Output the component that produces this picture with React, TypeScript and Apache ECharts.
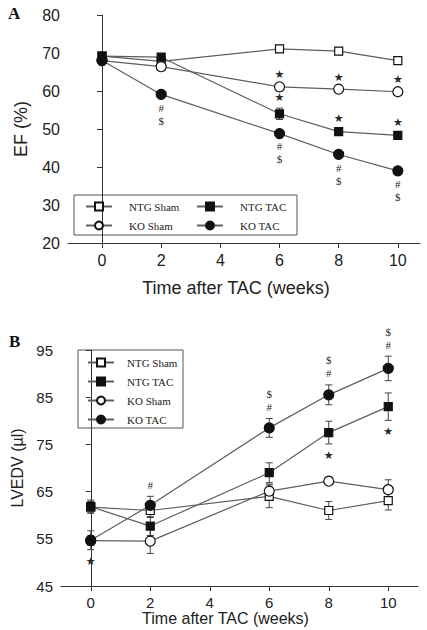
import React, { useEffect, useRef } from "react";
import * as echarts from "echarts";

// ---------- data ----------
const weeks = [0, 2, 6, 8, 10];
const xTickValues = [0, 2, 4, 6, 8, 10];
const efTicks = [20, 30, 40, 50, 60, 70, 80];
const lvTicks = [45, 55, 65, 75, 85, 95];

const seriesNames = ["NTG Sham", "NTG TAC", "KO Sham", "KO TAC"];

// Panel A: EF (%)
const efNtgSham = [69.2, 67.8, 71.1, 70.5, 68.0];
const efNtgTac = [69.2, 68.9, 54.0, 49.3, 48.3];
const efKoSham = [68.0, 66.4, 61.1, 60.5, 59.8];
const efKoTac = [68.0, 59.1, 48.8, 43.3, 39.0];
const efNtgShamErr = [0.5, 0.6, 0.9, 0.8, 0.9];
const efNtgTacErr = [0.5, 0.5, 1.5, 0.6, 0.6];
const efKoShamErr = [0.4, 0.6, 0.5, 0.4, 0.5];
const efKoTacErr = [0.5, 0.8, 0.6, 0.8, 0.6];

// Panel B: LVEDV (µl)
const lvNtgSham = [61.7, 61.0, 64.0, 61.0, 63.1];
const lvNtgTac = [61.8, 57.7, 69.0, 77.5, 83.0];
const lvKoSham = [54.6, 54.5, 65.1, 67.2, 65.4];
const lvKoTac = [54.7, 62.1, 78.5, 85.5, 91.1];
const lvNtgShamErr = [1.2, 1.5, 2.4, 1.9, 2.0];
const lvNtgTacErr = [1.4, 2.0, 2.1, 2.4, 2.9];
const lvKoShamErr = [1.0, 2.6, 1.5, 0.7, 2.1];
const lvKoTacErr = [2.0, 1.9, 2.0, 2.1, 2.6];

// significance marks: [series, week, text, side]
const efMarks: [string, number, string, string][] = [
  ["KO Sham", 6, "★", "above"],
  ["KO Sham", 8, "★", "above"],
  ["KO Sham", 10, "★", "above"],
  ["NTG TAC", 6, "★", "above"],
  ["NTG TAC", 8, "★", "above"],
  ["NTG TAC", 10, "★", "above"],
  ["KO TAC", 2, "#\n$", "below"],
  ["KO TAC", 6, "#\n$", "below"],
  ["KO TAC", 8, "#\n$", "below"],
  ["KO TAC", 10, "#\n$", "below"],
];
const lvMarks: [string, number, string, string][] = [
  ["KO TAC", 0, "★", "below"],
  ["KO TAC", 2, "#", "above"],
  ["KO TAC", 6, "$\n#", "above"],
  ["KO TAC", 8, "$\n#", "above"],
  ["KO TAC", 10, "$\n#", "above"],
  ["NTG TAC", 8, "★", "below"],
  ["NTG TAC", 10, "★", "below"],
];

// ---------- styling ----------
const LINE = "#5e5e5e";
const INK = "#111";
const SANS = "Arial, 'Liberation Sans', sans-serif";
const SERIF = "'Liberation Serif', 'Times New Roman', serif";

const styleFor: Record<string, { symbol: string; size: number; fill: string }> = {
  "NTG Sham": { symbol: "rect", size: 8, fill: "#fff" },
  "NTG TAC": { symbol: "rect", size: 8, fill: INK },
  "KO Sham": { symbol: "circle", size: 10, fill: "#fff" },
  "KO TAC": { symbol: "circle", size: 10, fill: INK },
};

function pairs(vals: number[]) {
  return weeks.map((w, i) => [w, vals[i]]);
}
function triples(vals: number[], errs: number[]) {
  return weeks.map((w, i) => [w, vals[i], errs[i]]);
}

function lineSeries(name: string, vals: number[], axis: number) {
  const s = styleFor[name];
  return {
    type: "line",
    name,
    xAxisIndex: axis,
    yAxisIndex: axis,
    data: pairs(vals),
    symbol: s.symbol,
    symbolSize: s.size,
    showAllSymbol: true,
    lineStyle: { color: LINE, width: 1.2 },
    itemStyle: { color: s.fill, borderColor: INK, borderWidth: 1.2 },
    z: 3,
  };
}

function errorSeries(vals: number[], errs: number[], axis: number) {
  return {
    type: "custom",
    xAxisIndex: axis,
    yAxisIndex: axis,
    data: triples(vals, errs),
    z: 2,
    silent: true,
    renderItem: (params: any, api: any) => {
      const x = api.value(0);
      const y = api.value(1);
      const e = api.value(2);
      const top = api.coord([x, y + e]);
      const bot = api.coord([x, y - e]);
      const half = 3.5;
      const st = { stroke: "#444", lineWidth: 1 };
      return {
        type: "group",
        children: [
          { type: "line", shape: { x1: top[0], y1: top[1], x2: bot[0], y2: bot[1] }, style: st },
          { type: "line", shape: { x1: top[0] - half, y1: top[1], x2: top[0] + half, y2: top[1] }, style: st },
          { type: "line", shape: { x1: bot[0] - half, y1: bot[1], x2: bot[0] + half, y2: bot[1] }, style: st },
        ],
      };
    },
  };
}

function markSeries(
  marks: [string, number, string, string][],
  lookup: Record<string, { vals: number[]; errs: number[] }>,
  axis: number,
  gap: number
) {
  const data = marks.map(([name, w, , side]) => {
    const i = weeks.indexOf(w);
    const d = lookup[name];
    const y = side === "above" ? d.vals[i] + d.errs[i] : d.vals[i] - d.errs[i];
    return [w, y];
  });
  return {
    type: "custom",
    xAxisIndex: axis,
    yAxisIndex: axis,
    data,
    z: 4,
    silent: true,
    renderItem: (params: any, api: any) => {
      const m = marks[params.dataIndex];
      const p = api.coord([api.value(0), api.value(1)]);
      const isStar = m[2] === "★";
      const above = m[3] === "above";
      return {
        type: "text",
        x: p[0],
        y: above ? p[1] - gap : p[1] + gap,
        style: {
          text: m[2],
          align: "center",
          verticalAlign: above ? "bottom" : "top",
          font: isStar ? `11px 'DejaVu Sans', sans-serif` : `11px ${SERIF}`,
          lineHeight: 13,
          fill: "#2a2a2a",
        },
      };
    },
  };
}

const efLookup = {
  "NTG Sham": { vals: efNtgSham, errs: efNtgShamErr },
  "NTG TAC": { vals: efNtgTac, errs: efNtgTacErr },
  "KO Sham": { vals: efKoSham, errs: efKoShamErr },
  "KO TAC": { vals: efKoTac, errs: efKoTacErr },
};
const lvLookup = {
  "NTG Sham": { vals: lvNtgSham, errs: lvNtgShamErr },
  "NTG TAC": { vals: lvNtgTac, errs: lvNtgTacErr },
  "KO Sham": { vals: lvKoSham, errs: lvKoShamErr },
  "KO TAC": { vals: lvKoTac, errs: lvKoTacErr },
};

function xAxis(grid: number, min: number, max: number, fontSize: number, nameSize: number, nameGap: number, padRight: number) {
  return {
    type: "value",
    gridIndex: grid,
    min,
    max,
    name: "Time after TAC (weeks)",
    nameLocation: "middle",
    nameGap,
    nameTextStyle: { fontFamily: SANS, fontSize: nameSize, color: "#222", padding: [0, padRight, 0, 0] },
    axisLine: { show: true, onZero: false, lineStyle: { color: "#333", width: 1 } },
    axisTick: { show: true, length: 5, customValues: xTickValues, lineStyle: { color: "#333" } },
    axisLabel: { customValues: xTickValues, fontFamily: SANS, fontSize, color: "#222", margin: 9 },
    splitLine: { show: false },
  };
}

function yAxis(grid: number, name: string, ticks: number[], fontSize: number, nameSize: number, nameGap: number) {
  return {
    type: "value",
    gridIndex: grid,
    min: ticks[0],
    max: ticks[ticks.length - 1],
    name,
    nameLocation: "middle",
    nameGap,
    nameTextStyle: { fontFamily: SANS, fontSize: nameSize, color: "#222" },
    axisLine: { show: true, lineStyle: { color: "#333", width: 1 } },
    axisTick: { show: true, length: 5, customValues: ticks, lineStyle: { color: "#333" } },
    axisLabel: { customValues: ticks, fontFamily: SANS, fontSize, color: "#222", margin: 8 },
    splitLine: { show: false },
  };
}

const legendText = { fontFamily: SERIF, fontSize: 11, color: "#222", padding: [0, 0, 0, 12] };

export default function App() {
  const ref = useRef<HTMLDivElement>(null);
  useEffect(() => {
    if (!ref.current) return;
    const chart = echarts.init(ref.current, undefined, { renderer: "svg" });
    const option: any = {
      animation: false,
      backgroundColor: "#fff",
      grid: [
        { left: 68, top: 15, right: 7, bottom: 387 },
        { left: 61, top: 350, right: 9, bottom: 44 },
      ],
      xAxis: [
        xAxis(0, -1.15, 10.75, 16, 18, 36, 16),
        xAxis(1, -1, 11, 15, 16, 24, 28),
      ],
      yAxis: [
        yAxis(0, "EF (%)", efTicks, 16, 18, 38),
        yAxis(1, "LVEDV (µl)", lvTicks, 15, 16, 33),
      ],
      legend: [
        {
          data: ["NTG Sham", "KO Sham"],
          orient: "vertical",
          left: 80,
          top: 196,
          itemGap: 8,
          itemWidth: 26,
          itemHeight: 10,
          textStyle: legendText,
          selectedMode: false,
        },
        {
          data: ["NTG TAC", "KO TAC"],
          orient: "vertical",
          left: 191,
          top: 196,
          itemGap: 8,
          itemWidth: 26,
          itemHeight: 10,
          textStyle: legendText,
          selectedMode: false,
        },
        {
          data: seriesNames,
          orient: "vertical",
          left: 82,
          top: 352,
          itemGap: 8,
          itemWidth: 26,
          itemHeight: 10,
          textStyle: { ...legendText, padding: [0, 0, 0, 8] },
          selectedMode: false,
        },
      ],
      graphic: [
        { type: "rect", shape: { x: 74, y: 195, width: 223, height: 40 }, style: { fill: "none", stroke: "#555", lineWidth: 1 } },
        { type: "rect", shape: { x: 78, y: 350, width: 105, height: 78 }, style: { fill: "none", stroke: "#555", lineWidth: 1 } },
        { type: "text", x: 8, y: 5, style: { text: "A", font: `bold 17px ${SERIF}`, fill: "#111" } },
        { type: "text", x: 9, y: 333, style: { text: "B", font: `bold 17px ${SERIF}`, fill: "#111" } },
      ],
      series: [
        errorSeries(efNtgSham, efNtgShamErr, 0),
        errorSeries(efNtgTac, efNtgTacErr, 0),
        errorSeries(efKoSham, efKoShamErr, 0),
        errorSeries(efKoTac, efKoTacErr, 0),
        lineSeries("NTG Sham", efNtgSham, 0),
        lineSeries("NTG TAC", efNtgTac, 0),
        lineSeries("KO Sham", efKoSham, 0),
        lineSeries("KO TAC", efKoTac, 0),
        markSeries(efMarks, efLookup, 0, 4),
        errorSeries(lvNtgSham, lvNtgShamErr, 1),
        errorSeries(lvNtgTac, lvNtgTacErr, 1),
        errorSeries(lvKoSham, lvKoShamErr, 1),
        errorSeries(lvKoTac, lvKoTacErr, 1),
        lineSeries("NTG Sham", lvNtgSham, 1),
        lineSeries("NTG TAC", lvNtgTac, 1),
        lineSeries("KO Sham", lvKoSham, 1),
        lineSeries("KO TAC", lvKoTac, 1),
        markSeries(lvMarks, lvLookup, 1, 5),
      ],
    };
    chart.setOption(option);
    return () => chart.dispose();
  }, []);
  return (
    <div
      ref={ref}
      style={{ position: "absolute", left: 0, top: 0, width: 427, height: 630, background: "#fff" }}
    />
  );
}
